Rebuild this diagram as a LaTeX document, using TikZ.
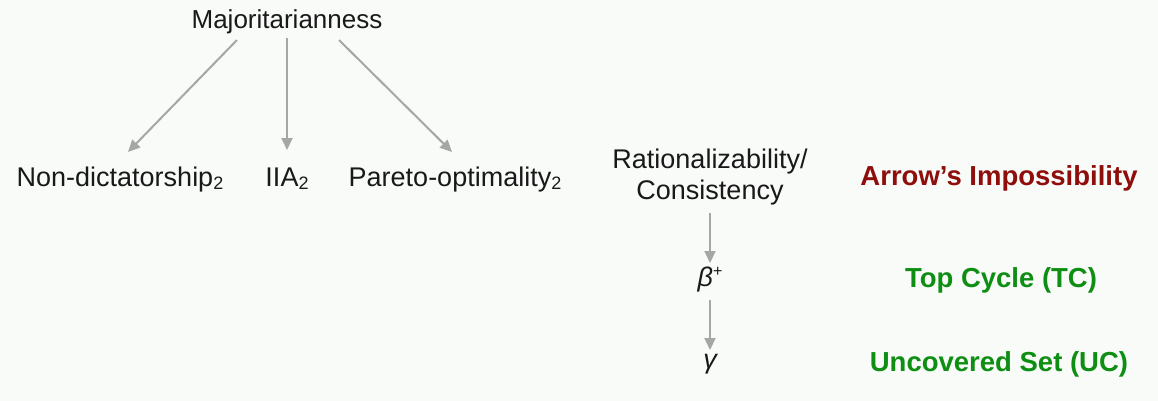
\documentclass[tikz,border=0pt]{standalone}
\usepackage{fontspec}
\setmainfont{Liberation Sans}
\usetikzlibrary{arrows.meta}
\definecolor{bg}{HTML}{F9FBF9}
\definecolor{arrowgray}{HTML}{A5A7A5}
\definecolor{darkred}{HTML}{8E0E0C}
\definecolor{dgreen}{HTML}{0E8E12}
\newcommand{\sbs}[1]{\raisebox{-0.12em}{\fontsize{18}{20}\selectfont #1}}
\begin{document}
\begin{tikzpicture}[x=1pt,y=-1pt,
  lbl/.style={anchor=base,inner sep=0pt,font=\fontsize{27}{32}\selectfont,text=black!90},
  res/.style={anchor=base,inner sep=0pt,font=\fontsize{27.5}{32}\selectfont\bfseries},
  arr/.style={draw=arrowgray,line width=2pt,-{Triangle[length=12pt,width=11pt]}}]
\fill[bg] (0,0) rectangle (1158,401);
\useasboundingbox (0,0) rectangle (1158,401);
\node[lbl,font=\fontsize{26}{32}\selectfont] (maj) at (287,29) {Majoritarianness};
\node[lbl] (nd) at (120,186) {Non-dictatorship\sbs{2}};
\node[lbl] (iia) at (287,186) {IIA\sbs{2}};
\node[lbl] (po) at (455,186) {Pareto-optimality\sbs{2}};
\node[lbl] (rat) at (710,168) {Rationalizability/};
\node[lbl] (con) at (710,199) {Consistency};
\node[lbl] (beta) at (710,286) {\itshape β\raisebox{0.35em}{\fontsize{16}{18}\selectfont\upshape +}};
\node[lbl] (gam) at (710,368) {\itshape γ};
\node[res,text=darkred] (ai) at (999,185) {Arrow’s Impossibility};
\node[res,text=dgreen] (tc) at (1001,287) {Top Cycle (TC)};
\node[res,text=dgreen] (uc) at (999,371) {Uncovered Set (UC)};
\coordinate (m1) at (237,40);
\coordinate (m2) at (287,38);
\coordinate (m3) at (339,40);
\coordinate (t1) at (128,152);
\coordinate (t2) at (287,150);
\coordinate (t3) at (452,152);
\draw[arr] (m1) -- (t1);
\draw[arr] (m2) -- (t2);
\draw[arr] (m3) -- (t3);
\coordinate (r1) at (710,213);
\coordinate (r2) at (710,263);
\coordinate (b1) at (710,300);
\coordinate (b2) at (710,350);
\draw[arr] (r1) -- (r2);
\draw[arr] (b1) -- (b2);
\end{tikzpicture}
\end{document}
